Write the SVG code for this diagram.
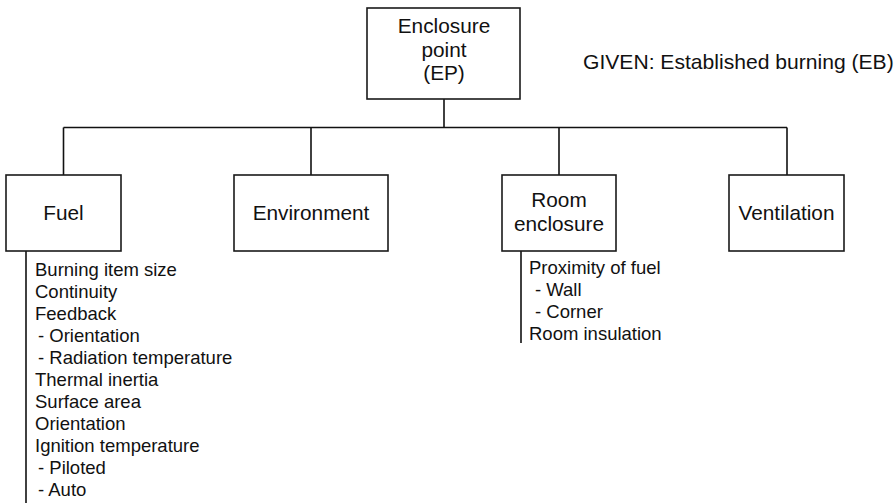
<svg xmlns="http://www.w3.org/2000/svg" width="896" height="503" viewBox="0 0 896 503">
  <style>
    .box { fill: #ffffff; stroke: #1a1a1a; stroke-width: 1.6; }
    .wire { fill: none; stroke: #111111; stroke-width: 1.6; }
    .label { font-family: "Liberation Sans", Arial, Helvetica, sans-serif; font-size: 20.8px; fill: #111111; text-anchor: middle; }
    .note { font-family: "Liberation Sans", Arial, Helvetica, sans-serif; font-size: 21.1px; fill: #111111; }
    .item { font-family: "Liberation Sans", Arial, Helvetica, sans-serif; font-size: 18.5px; fill: #111111; }
  </style>
  <rect width="896" height="503" fill="#ffffff"/>

  <!-- tree connectors and attribute rails -->
  <g id="connectors">
    <path class="wire" d="M444 99 V127.5"/>
    <path class="wire" d="M63.5 127.5 H787"/>
    <path class="wire" d="M63.5 127.5 V175"/>
    <path class="wire" d="M311 127.5 V175"/>
    <path class="wire" d="M559 127.5 V175"/>
    <path class="wire" d="M787 127.5 V175"/>
    <path class="wire" d="M26 251 V503"/>
    <path class="wire" d="M521 251 V343"/>
  </g>

  <g id="node-ep">
    <rect class="box" x="367" y="8" width="153" height="91"/>
    <text class="label" x="444" y="33">Enclosure</text>
    <text class="label" x="444" y="56.5">point</text>
    <text class="label" x="444" y="80">(EP)</text>
  </g>

  <g id="given-note">
    <text class="note" x="583" y="69">GIVEN: Established burning (EB)</text>
  </g>

  <g id="node-fuel">
    <rect class="box" x="6" y="175" width="115" height="76"/>
    <text class="label" x="63.5" y="220">Fuel</text>
  </g>

  <g id="node-environment">
    <rect class="box" x="234" y="175" width="154" height="76"/>
    <text class="label" x="311" y="220">Environment</text>
  </g>

  <g id="node-room">
    <rect class="box" x="502" y="175" width="114" height="76"/>
    <text class="label" x="559" y="207">Room</text>
    <text class="label" x="559" y="231">enclosure</text>
  </g>

  <g id="node-ventilation">
    <rect class="box" x="729" y="175" width="115" height="76"/>
    <text class="label" x="786.5" y="220">Ventilation</text>
  </g>

  <g id="fuel-factors">
    <text class="item" x="35" y="276">Burning item size</text>
    <text class="item" x="35" y="298">Continuity</text>
    <text class="item" x="35" y="320">Feedback</text>
    <text class="item" x="38" y="342">- Orientation</text>
    <text class="item" x="38" y="364">- Radiation temperature</text>
    <text class="item" x="35" y="386">Thermal inertia</text>
    <text class="item" x="35" y="408">Surface area</text>
    <text class="item" x="35" y="430">Orientation</text>
    <text class="item" x="35" y="452">Ignition temperature</text>
    <text class="item" x="38" y="474">- Piloted</text>
    <text class="item" x="38" y="496">- Auto</text>
  </g>

  <g id="room-factors">
    <text class="item" x="529" y="274">Proximity of fuel</text>
    <text class="item" x="535" y="296">- Wall</text>
    <text class="item" x="535" y="318">- Corner</text>
    <text class="item" x="529" y="340">Room insulation</text>
  </g>
</svg>
